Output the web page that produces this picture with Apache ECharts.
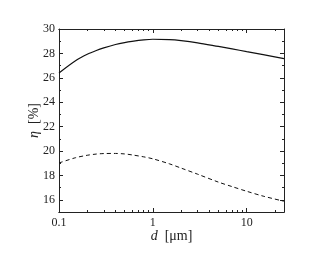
<!DOCTYPE html>
<html><head><meta charset="utf-8">
<script src="https://cdn.jsdelivr.net/npm/echarts@6/dist/echarts.min.js"></script>
<style>html,body{margin:0;padding:0;background:#fff}#c{width:330px;height:255px}</style>
</head><body><div id="c"></div>
<script>
const dValues = [0.1, 0.15, 0.2, 0.25, 0.3, 0.4, 0.5, 0.6, 0.8, 1, 1.5, 2, 3, 5, 7, 10, 15, 25];
const etaSolid = [26.4, 27.4, 27.93, 28.24, 28.45, 28.73, 28.89, 28.99, 29.11, 29.16, 29.13, 29.05, 28.87, 28.57, 28.37, 28.15, 27.9, 27.57];
const etaDashed = [19.02, 19.45, 19.65, 19.75, 19.79, 19.8, 19.76, 19.68, 19.52, 19.36, 18.95, 18.6, 18.1, 17.45, 17.08, 16.7, 16.3, 15.88];
const xMajorTicks = [0.1, 1, 10];
const xMinorTicks = [0.2,0.3,0.4,0.5,0.6,0.7,0.8,0.9,2,3,4,5,6,7,8,9,20];
const yTicks = [16, 18, 20, 22, 24, 26, 28, 30];
const xRange = [0.1, 25];
const yRange = [15, 30];
const yTickStep = 1;

const L = Math.log10;
const col = '#222';
const font = '"Liberation Serif","DejaVu Serif",serif';
const xMin = L(xRange[0]), xMax = L(xRange[1]);
const fmt = v => { const p = Math.round(v); return String(+Math.pow(10, p).toPrecision(3)); };

function xAx(pos, major, labels, name) {
  return {
    type: 'value', position: pos, min: xMin, max: xMax,
    axisLine: {show: true, onZero: false, lineStyle: {color: col, width: 1}},
    axisTick: {show: true, inside: true, length: major ? 4 : 2, lineStyle: {color: col},
      customValues: (major ? xMajorTicks : xMinorTicks).map(L)},
    axisLabel: {show: labels, color: col, fontFamily: font, fontSize: 12, margin: 5,
      customValues: xMajorTicks.map(L), formatter: fmt},
    splitLine: {show: false},
    name: name || '', nameLocation: 'middle', nameGap: 17, nameMoveOverlap: false,
    nameTextStyle: {color: col, fontFamily: font, fontSize: 14,
      rich: {i: {fontStyle: 'italic', fontFamily: font, fontSize: 14, color: col}}}
  };
}
function yAx(pos, labels, name) {
  return {
    type: 'value', position: pos, min: yRange[0], max: yRange[1], interval: yTickStep,
    axisLine: {show: true, onZero: false, lineStyle: {color: col, width: 1}},
    axisTick: {show: true, inside: true, length: 4, lineStyle: {color: col},
      customValues: yTicks},
    minorTick: {show: false},
    axisLabel: {show: labels, color: col, fontFamily: font, fontSize: 12, margin: 4,
      customValues: yTicks},
    splitLine: {show: false},
    name: name || '', nameLocation: 'middle', nameGap: 18, nameRotate: 90, nameMoveOverlap: false,
    nameTextStyle: {color: col, fontFamily: font, fontSize: 14,
      rich: {i: {fontStyle: 'italic', fontFamily: font, fontSize: 14, color: col}}}
  };
}
function yMinor(pos) {
  const minorVals = [];
  for (let v = yRange[0]; v <= yRange[1]; v += yTickStep) if (yTicks.indexOf(v) < 0) minorVals.push(v);
  return {
    type: 'value', position: pos, min: yRange[0], max: yRange[1],
    axisLine: {show: false, onZero: false},
    axisTick: {show: true, inside: true, length: 2, lineStyle: {color: col}, customValues: minorVals},
    axisLabel: {show: false}, splitLine: {show: false}
  };
}

const chart = echarts.init(document.getElementById('c'), null, {renderer: 'canvas'});
chart.setOption({
  animation: false,
  backgroundColor: '#fff',
  grid: {left: 59, right: 46, top: 29, bottom: 43, containLabel: false},
  xAxis: [
    xAx('bottom', true, true, '{i|d}  [μm]'),
    xAx('bottom', false, false),
    xAx('top', true, false),
    xAx('top', false, false)
  ],
  yAxis: [
    yAx('left', true, '{i|η}  [%]'),
    yAx('right', false),
    yMinor('left'),
    yMinor('right')
  ],
  series: [
    {type: 'line', xAxisIndex: 0, yAxisIndex: 0, smooth: 0.3, showSymbol: false,
     lineStyle: {color: '#111', width: 1.2},
     data: dValues.map((d, i) => [L(d), etaSolid[i]])},
    {type: 'line', xAxisIndex: 0, yAxisIndex: 0, smooth: 0.3, showSymbol: false,
     lineStyle: {color: '#111', width: 1, type: [4, 3]},
     data: dValues.map((d, i) => [L(d), etaDashed[i]])}
  ]
});
</script></body></html>
